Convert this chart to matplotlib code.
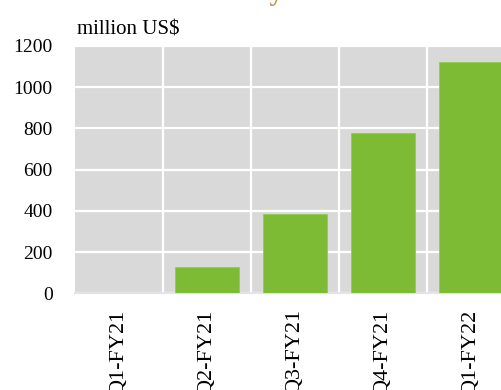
import matplotlib
matplotlib.use('Agg')
import matplotlib.pyplot as plt
import numpy as np

# Data (million US$)
QUARTERS = ["Q1-FY21", "Q2-FY21", "Q3-FY21", "Q4-FY21", "Q1-FY22"]
VALUES = [0, 127, 383, 778, 1121]
Y_TICKS = [0, 200, 400, 600, 800, 1000, 1200]

TITLE = "Annual Cost Rates by Investments"
UNIT_LABEL = "million US$"

BAR_COLOR = "#7CBB33"
BG_COLOR = "#D9D9D9"
TITLE_COLOR = "#B8923A"

plt.rcParams['font.family'] = ['Liberation Serif', 'DejaVu Serif']

W, H = 502, 390
fig = plt.figure(figsize=(W / 100, H / 100), dpi=100)

# plot area in pixels: left 75, top 46, width 440 (runs past right edge), bottom 293
ax = fig.add_axes([75 / W, 1 - 293.3 / H, 440 / W, 247.3 / H])
ax.set_facecolor(BG_COLOR)

x = np.arange(len(QUARTERS))
ax.bar(x, VALUES, width=0.72, color=BAR_COLOR, edgecolor="#95C75E",
       linewidth=0.6, zorder=3)

ax.set_xlim(-0.5, len(QUARTERS) - 0.5)
ax.set_ylim(0, 1200)
ax.set_yticks(Y_TICKS)
ax.set_yticklabels([str(v) for v in Y_TICKS], fontsize=14)
ax.set_xticks(x)
ax.set_xticklabels(QUARTERS, rotation=90, fontsize=16)
ax.tick_params(axis="both", length=0)
ax.tick_params(axis="y", pad=16)
ax.tick_params(axis="x", pad=11.5)

# gridlines: horizontal at values, vertical between categories
ax.set_xticks(x[:-1] + 0.5, minor=True)
ax.tick_params(axis="x", which="minor", length=0)
ax.grid(axis="y", which="major", color="white", linewidth=1.6, zorder=1)
ax.grid(axis="x", which="minor", color="white", linewidth=1.6, zorder=1)
ax.grid(axis="x", which="major", visible=False)
ax.set_axisbelow(True)

for side in ["top", "right", "left"]:
    ax.spines[side].set_visible(False)
ax.spines["bottom"].set_color("#E4E4E4")
ax.spines["bottom"].set_linewidth(1.5)

fig.text(77 / W, 1 - 34 / H, UNIT_LABEL, fontsize=15, va="baseline", ha="left")
# title sits above the visible area, only its lowest pixels show
fig.text(25 / W, 1 - 0.5 / H, TITLE, fontsize=20, fontweight="bold",
         color=TITLE_COLOR, va="baseline", ha="left")

fig.savefig("out.png", dpi=100)
